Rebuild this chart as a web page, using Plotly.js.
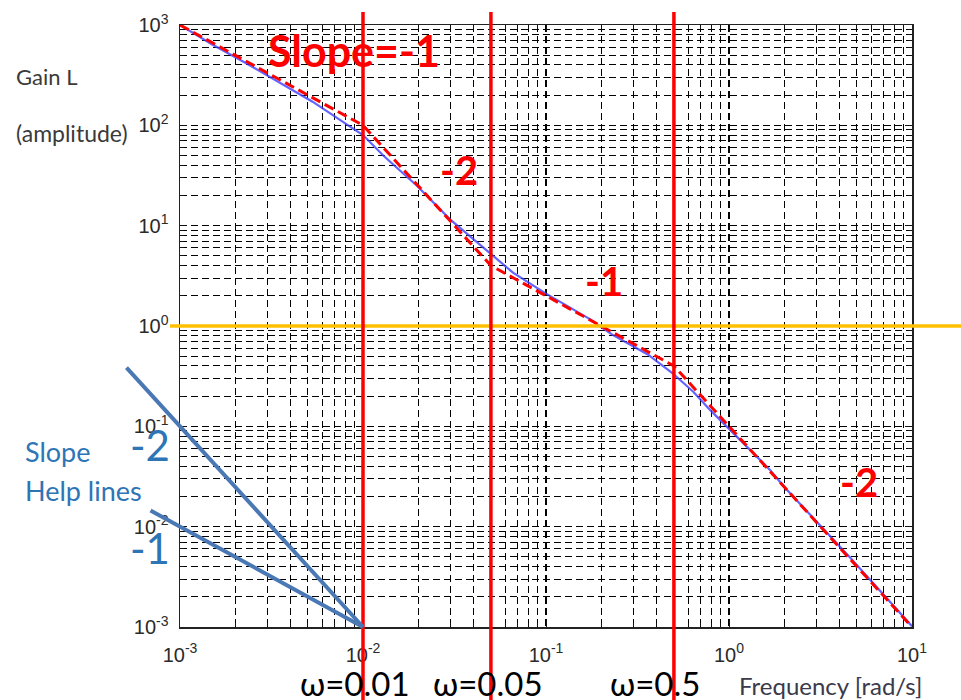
<!DOCTYPE html>
<html>
<head>
<meta charset="utf-8">
<script src="https://cdn.plot.ly/plotly-3.0.1.min.js"></script>
<style>
  html, body { margin: 0; padding: 0; background: #ffffff; }
  #chart { width: 961px; height: 700px; }
</style>
</head>
<body>
<div id="chart"></div>
<script>
// Open-loop gain |L(jw)| of the loop, with its straight-line (asymptotic) approximation.
const freqTicks = [0.001, 0.01, 0.1, 1, 10];
const freqTickText = ['10<sup>-3</sup>', '10<sup>-2</sup>', '10<sup>-1</sup>', '10<sup>0</sup>', '10<sup>1</sup>'];
const gainTicks = [0.001, 0.01, 0.1, 1, 10, 100, 1000];
const gainTickText = ['10<sup>-3</sup>', '10<sup>-2</sup>', '10<sup>-1</sup>', '10<sup>0</sup>',
                      '10<sup>1</sup>', '10<sup>2</sup>', '10<sup>3</sup>'];

// Measured gain curve
const gainFreq = [0.001, 0.0015, 0.0023, 0.0035, 0.0053, 0.0085, 0.010, 0.0129, 0.0197, 0.030,
                  0.045, 0.066, 0.10, 0.17, 0.23, 0.36, 0.49, 0.64, 0.79, 0.98,
                  1.25, 1.67, 2.0, 4.6, 10];
const gainValue = [1000, 640, 415, 268, 172, 97, 80, 50, 25, 11.5,
                   6.2, 3.4, 2.1, 1.2, 0.82, 0.52, 0.34, 0.22, 0.145, 0.098,
                   0.064, 0.037, 0.025, 0.0049, 0.00102];

// Asymptotic approximation: corners at the break frequencies
const asymFreq = [0.001, 0.01, 0.05, 0.5, 10];
const asymGain = [1000, 100, 4, 0.4, 0.001];
const asymSlopeLabels = ['Slope=-1', '-2', '-1', '-2'];

// Break frequencies
const breakFreq = [0.01, 0.05, 0.5];
const breakLabels = ['\u03c9=0.01', '\u03c9=0.05', '\u03c9=0.5'];

// Slope help lines, both ending at (0.01, 0.001)
const helpSlopes = [-2, -1];
const helpStartFreq = [0.00051, 0.00069];
const helpEnd = [0.01, 0.001];
const helpLabels = ['-2', '-1'];

// Crossover level
const unityGain = 1;

// ---- plot geometry (pixels) ----
const W = 961, H = 700;
const PL = 180, PR = 912, PT = 25, PB = 627;
const px = x => (x - PL) / (PR - PL);
const py = y => (PB - y) / (PB - PT);
const xLogRange = [-3, 1], yLogRange = [-3, 3];
const paperX = w => (Math.log10(w) - xLogRange[0]) / (xLogRange[1] - xLogRange[0]);
const paperY = g => (Math.log10(g) - yLogRange[0]) / (yLogRange[1] - yLogRange[0]);

function minorValues(lo, hi) {
  const out = [];
  for (let e = lo; e < hi; e++) {
    for (let m = 2; m <= 9; m++) out.push(m * Math.pow(10, e));
  }
  return out;
}

const gridStyle = {
  showgrid: true, gridcolor: '#000000', gridwidth: 1.1, griddash: '7px,4px'
};

const traces = [
  {
    x: gainFreq, y: gainValue, type: 'scatter', mode: 'lines',
    line: { color: 'rgba(60,60,255,0.8)', width: 2.2 },
    hoverinfo: 'skip', showlegend: false
  },
  {
    x: asymFreq, y: asymGain, type: 'scatter', mode: 'lines',
    line: { color: '#ff0000', width: 3, dash: '10px,5px' },
    hoverinfo: 'skip', showlegend: false
  }
];

const shapes = [];
// unity gain line
shapes.push({
  type: 'line', xref: 'paper', yref: 'paper',
  x0: px(170), x1: px(961), y0: paperY(unityGain), y1: paperY(unityGain),
  line: { color: '#ffc000', width: 3.5 }, layer: 'above'
});
// break frequency markers
breakFreq.forEach(w => {
  shapes.push({
    type: 'line', xref: 'paper', yref: 'paper',
    x0: paperX(w), x1: paperX(w), y0: py(700), y1: py(12),
    line: { color: '#ff0000', width: 3.5 }, layer: 'above'
  });
});
// slope help lines
helpSlopes.forEach((s, i) => {
  const w0 = helpStartFreq[i];
  const g0 = helpEnd[1] * Math.pow(w0 / helpEnd[0], s);
  shapes.push({
    type: 'line', xref: 'paper', yref: 'paper',
    x0: paperX(w0), y0: paperY(g0), x1: paperX(helpEnd[0]), y1: paperY(helpEnd[1]),
    line: { color: '#4a78b5', width: 4 }, layer: 'above'
  });
});

const annotations = [];
const ann = (text, x, y, font, xanchor) => annotations.push({
  text, xref: 'paper', yref: 'paper', x: px(x), y: py(y),
  xanchor: xanchor || 'left', yanchor: 'middle', showarrow: false, font
});

const pptFont = 'Lato, "Noto Sans", sans-serif';
const redBold = size => ({ family: pptFont, size, color: '#ff0000', weight: 'bold' });

// axis captions
ann('Gain L', 14, 76, { family: pptFont, size: 22, color: '#3a3a3a' });
ann('(amplitude)', 14, 133, { family: pptFont, size: 23, color: '#3a3a3a' });
ann('Frequency [rad/s]', 737, 685, { family: pptFont, size: 24, color: '#3a3a4a' });

// slope labels on the asymptotes
const slopePos = [[266, 51], [438, 170], [583, 281], [838, 482]];
asymSlopeLabels.forEach((t, i) => {
  ann('<b>' + t + '</b>', slopePos[i][0], slopePos[i][1], redBold(i === 0 ? 43 : 40));
});

// break frequency labels
const breakLabelX = [298, 431, 608];
breakLabels.forEach((t, i) => {
  ann(t, breakLabelX[i], 683, { family: pptFont, size: 33, color: '#000000' });
});

// help line captions
ann('Slope', 23, 452, { family: pptFont, size: 27, color: '#2e75b6' });
ann('Help lines', 23, 490, { family: pptFont, size: 27, color: '#2e75b6' });
const helpLabelY = [445, 548];
helpLabels.forEach((t, i) => {
  ann(t, 128, helpLabelY[i], { family: pptFont, size: 42, color: '#2e75b6' });
});

const axisCommon = Object.assign({
  type: 'log',
  showline: true, linecolor: '#222222', linewidth: 1.5, mirror: 'ticks',
  ticks: 'inside', ticklen: 7, tickcolor: '#111111', tickwidth: 1,
  tickmode: 'array',
  tickfont: { family: '"Liberation Sans", Arial, sans-serif', size: 20, color: '#2a2a2a' },
  zeroline: false, fixedrange: true
}, gridStyle);

const layout = {
  width: W, height: H,
  margin: { l: PL, r: W - PR, t: PT, b: H - PB },
  paper_bgcolor: '#ffffff', plot_bgcolor: '#ffffff',
  showlegend: false,
  xaxis: Object.assign({}, axisCommon, {
    range: xLogRange, tickvals: freqTicks, ticktext: freqTickText,
    ticklabelstandoff: 9,
    minor: Object.assign({ tickmode: 'array', tickvals: minorValues(-3, 1),
                           ticks: 'inside', ticklen: 4, tickcolor: '#111111' }, gridStyle)
  }),
  yaxis: Object.assign({}, axisCommon, {
    range: yLogRange, tickvals: gainTicks, ticktext: gainTickText,
    ticklabelstandoff: 6,
    minor: Object.assign({ tickmode: 'array', tickvals: minorValues(-3, 3),
                           ticks: 'inside', ticklen: 4, tickcolor: '#111111' }, gridStyle)
  }),
  shapes, annotations
};

Plotly.newPlot('chart', traces, layout, { staticPlot: true, displayModeBar: false });
</script>
</body>
</html>
